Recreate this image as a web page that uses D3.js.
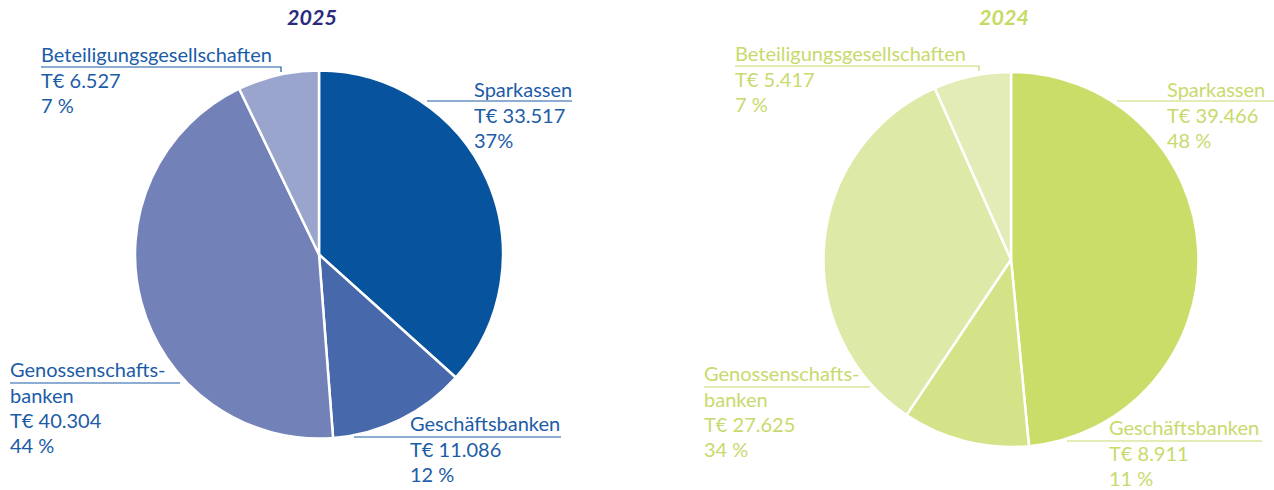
<!DOCTYPE html>
<html><head><meta charset="utf-8">
<script src="https://cdn.jsdelivr.net/npm/d3@7"></script>
<style>
html,body{margin:0;padding:0;background:#fff;}
svg{display:block;}
text{font-family:Lato,"Open Sans",sans-serif;}
</style></head>
<body>
<svg id="chart" width="1274" height="490"></svg>
<script>
// ---- data ----
const categories = ["Sparkassen", "Geschäftsbanken", "Genossenschaftsbanken", "Beteiligungsgesellschaften"];
const labelNames = [["Sparkassen"], ["Geschäftsbanken"], ["Genossenschafts-", "banken"], ["Beteiligungsgesellschaften"]];
const years = ["2025", "2024"];
const values2025 = [33517, 11086, 40304, 6527];
const values2024 = [39466, 8911, 27625, 5417];
const pctLabels2025 = ["37%", "12 %", "44 %", "7 %"];
const pctLabels2024 = ["48 %", "11 %", "34 %", "7 %"];

// ---- styles / layout ----
const charts = [
  { year: years[0], values: values2025, pcts: pctLabels2025,
    cx: 319, cy: 254.5, r: 184,
    colors: ["#07539e", "#4768aa", "#7282b9", "#99a5cd"],
    titleColor: "#2b2a7c", textColor: "#1c5ca7",
    labels: [
      { x: 474, y: 97, lineY: 101, x1: 427, x2: 572 },
      { x: 410, y: 431, lineY: 437, x1: 354, x2: 561 },
      { x: 10,  y: 377, lineY: 383, x1: 10, x2: 180 },
      { x: 41,  y: 62,  lineY: 67, x1: 41, x2: 281, tick: 72 }
    ]},
  { year: years[1], values: values2024, pcts: pctLabels2024,
    cx: 1011, cy: 259.5, r: 187.5,
    colors: ["#cadd69", "#d4e388", "#dde9a7", "#e3ecb6"],
    titleColor: "#c6da63", textColor: "#c7da6c",
    labels: [
      { x: 1167, y: 97, lineY: 101, x1: 1117, x2: 1274 },
      { x: 1109, y: 435, lineY: 441, x1: 1067, x2: 1262 },
      { x: 704,  y: 381, lineY: 387, x1: 704, x2: 870 },
      { x: 735,  y: 61,  lineY: 66, x1: 735, x2: 979, tick: 71 }
    ]}
];

const fmt = d3.formatLocale({decimal: ",", thousands: ".", grouping: [3], currency: ["", " €"]}).format(",d");
const svg = d3.select("#chart");
const lineH = 25;
const fontSize = 20;

charts.forEach(c => {
  // title
  svg.append("text")
    .attr("x", c.cx - 7).attr("y", 25)
    .attr("text-anchor", "middle")
    .attr("font-size", 21.5).attr("font-weight", 700).attr("font-style", "italic")
    .attr("fill", c.titleColor).text(c.year);

  const pie = d3.pie().sort(null).value(d => d)(c.values);
  const arc = d3.arc().innerRadius(0).outerRadius(c.r);
  const g = svg.append("g").attr("transform", `translate(${c.cx},${c.cy})`);
  g.selectAll("path").data(pie).join("path")
    .attr("d", arc)
    .attr("fill", (d, i) => c.colors[i])
    .attr("stroke", "#fff").attr("stroke-width", 2.5).attr("stroke-linejoin", "round");

  // labels
  c.labels.forEach((L, i) => {
    const lines = labelNames[i].concat(["T€ " + fmt(c.values[i]), c.pcts[i]]);
    const t = svg.append("text").attr("font-size", fontSize).attr("fill", c.textColor);
    lines.forEach((s, k) => {
      t.append("tspan").attr("x", L.x).attr("y", L.y + k * lineH + (k > 0 ? 1 : 0)).text(s);
    });
    let pts = [[L.x1, L.lineY], [L.x2, L.lineY]];
    if (L.tick) pts.push([L.x2, L.tick]);
    svg.append("path")
      .attr("d", d3.line()(pts))
      .attr("fill", "none").attr("stroke", c.textColor).attr("stroke-width", 1.2);
  });
});
</script>
</body></html>
